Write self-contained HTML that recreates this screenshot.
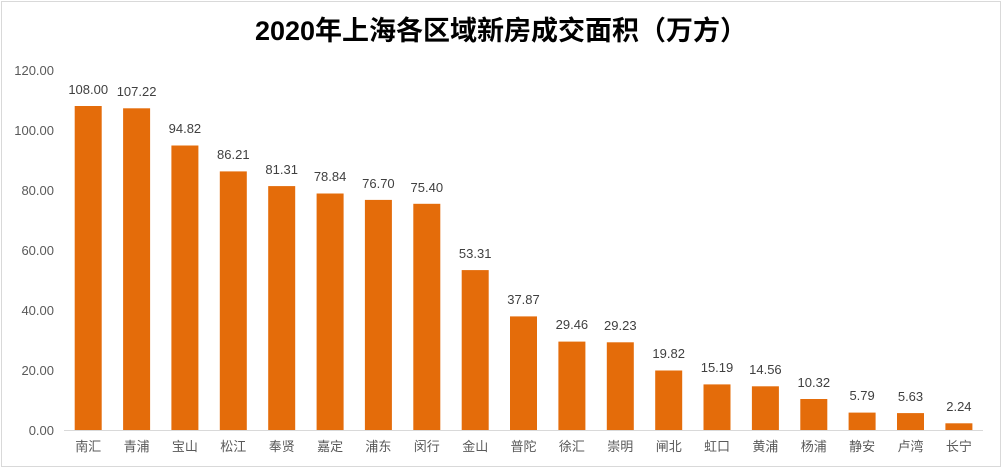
<!DOCTYPE html>
<html><head><meta charset="utf-8"><style>
html,body{margin:0;padding:0;background:#fff;}
svg{display:block;}
text{font-family:"Liberation Sans","Noto Sans CJK SC",sans-serif;}
</style></head><body>
<svg width="1003" height="469" viewBox="0 0 1003 469" xmlns="http://www.w3.org/2000/svg">
<rect x="1.5" y="1.5" width="999" height="465" fill="#fff" stroke="#d9d9d9" stroke-width="1"/>
<text x="501" y="40" text-anchor="middle" font-size="27" font-weight="bold" fill="#000" style="font-family:'Liberation Sans','Noto Sans CJK SC',sans-serif">2020年上海各区域新房成交面积（万方）</text>
<g font-size="13" fill="#595959" text-anchor="end">
<text x="54" y="75">120.00</text>
<text x="54" y="135">100.00</text>
<text x="54" y="195">80.00</text>
<text x="54" y="255">60.00</text>
<text x="54" y="315">40.00</text>
<text x="54" y="375">20.00</text>
<text x="54" y="435">0.00</text>
</g>
<line x1="64" y1="430.5" x2="983" y2="430.5" stroke="#d9d9d9" stroke-width="1"/>
<g fill="#E46C0A">
<rect x="74.7" y="106" width="27" height="324"/>
<rect x="123.1" y="108.3" width="27" height="321.7"/>
<rect x="171.4" y="145.5" width="27" height="284.5"/>
<rect x="219.8" y="171.4" width="27" height="258.6"/>
<rect x="268.2" y="186.1" width="27" height="243.9"/>
<rect x="316.6" y="193.5" width="27" height="236.5"/>
<rect x="364.9" y="199.9" width="27" height="230.1"/>
<rect x="413.3" y="203.8" width="27" height="226.2"/>
<rect x="461.7" y="270.1" width="27" height="159.9"/>
<rect x="510.0" y="316.4" width="27" height="113.6"/>
<rect x="558.4" y="341.6" width="27" height="88.4"/>
<rect x="606.8" y="342.3" width="27" height="87.7"/>
<rect x="655.2" y="370.5" width="27" height="59.5"/>
<rect x="703.5" y="384.4" width="27" height="45.6"/>
<rect x="751.9" y="386.3" width="27" height="43.7"/>
<rect x="800.3" y="399" width="27" height="31"/>
<rect x="848.6" y="412.6" width="27" height="17.4"/>
<rect x="897.0" y="413.1" width="27" height="16.9"/>
<rect x="945.4" y="423.3" width="27" height="6.7"/>
</g>
<g font-size="13" fill="#404040" text-anchor="middle">
<text x="88.2" y="94">108.00</text>
<text x="136.6" y="96">107.22</text>
<text x="184.9" y="133">94.82</text>
<text x="233.3" y="159">86.21</text>
<text x="281.7" y="174">81.31</text>
<text x="330.1" y="181">78.84</text>
<text x="378.4" y="188">76.70</text>
<text x="426.8" y="192">75.40</text>
<text x="475.2" y="258">53.31</text>
<text x="523.5" y="304">37.87</text>
<text x="571.9" y="329">29.46</text>
<text x="620.3" y="330">29.23</text>
<text x="668.7" y="358">19.82</text>
<text x="717.0" y="372">15.19</text>
<text x="765.4" y="374">14.56</text>
<text x="813.8" y="387">10.32</text>
<text x="862.1" y="400">5.79</text>
<text x="910.5" y="401">5.63</text>
<text x="958.9" y="411">2.24</text>
</g>
<g font-size="13" fill="#595959" text-anchor="middle">
<text x="88.2" y="451">南汇</text>
<text x="136.6" y="451">青浦</text>
<text x="184.9" y="451">宝山</text>
<text x="233.3" y="451">松江</text>
<text x="281.7" y="451">奉贤</text>
<text x="330.1" y="451">嘉定</text>
<text x="378.4" y="451">浦东</text>
<text x="426.8" y="451">闵行</text>
<text x="475.2" y="451">金山</text>
<text x="523.5" y="451">普陀</text>
<text x="571.9" y="451">徐汇</text>
<text x="620.3" y="451">崇明</text>
<text x="668.7" y="451">闸北</text>
<text x="717.0" y="451">虹口</text>
<text x="765.4" y="451">黄浦</text>
<text x="813.8" y="451">杨浦</text>
<text x="862.1" y="451">静安</text>
<text x="910.5" y="451">卢湾</text>
<text x="958.9" y="451">长宁</text>
</g>
</svg>
</body></html>
